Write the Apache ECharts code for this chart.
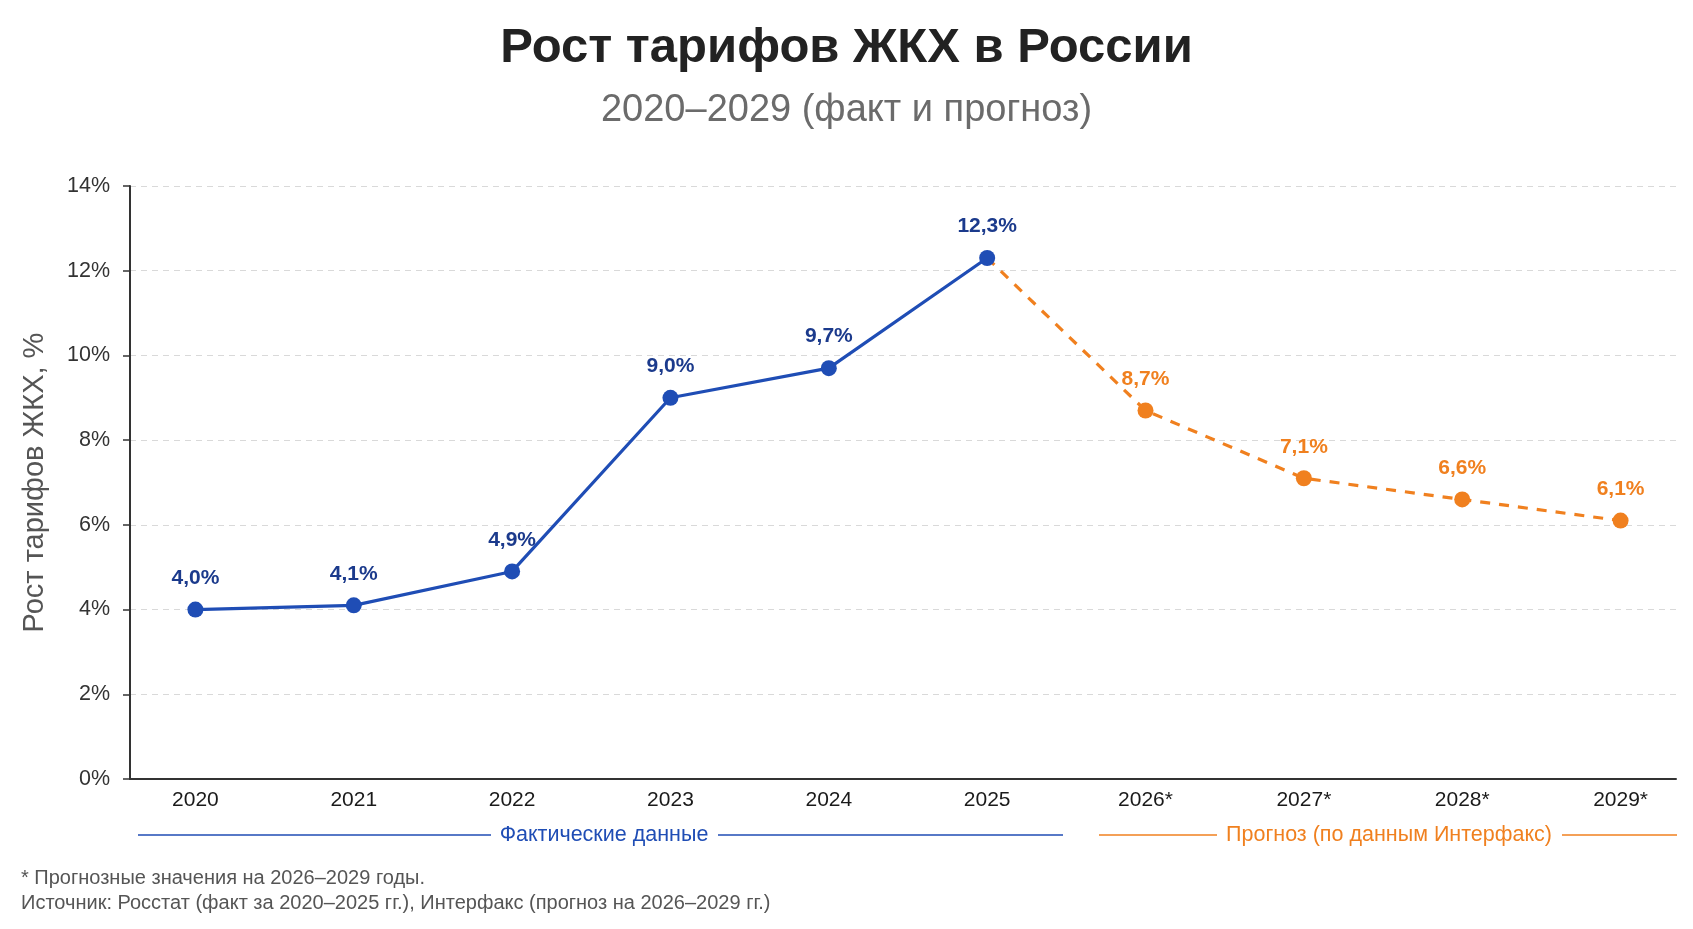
<!DOCTYPE html>
<html lang="ru">
<head>
    <meta charset="UTF-8"/>
    <title>Рост тарифов ЖКХ</title>
    <script src="https://cdn.jsdelivr.net/npm/echarts@6/dist/echarts.min.js"></script>
    <style>
        html, body { margin: 0; padding: 0; background: #fff; }
        #main { width: 1693px; height: 929px; }
    </style>
</head>
<body>
<div id="main"></div>
<script type="text/javascript">
    var years = ['2020', '2021', '2022', '2023', '2024', '2025', '2026*', '2027*', '2028*', '2029*'];
    // факт (Росстат)
    var factValues = [4.0, 4.1, 4.9, 9.0, 9.7, 12.3, null, null, null, null];
    // прогноз (Интерфакс), начинается от последней фактической точки
    var forecastValues = [null, null, null, null, null, 12.3, 8.7, 7.1, 6.6, 6.1];
    var yTicks = [0, 2, 4, 6, 8, 10, 12, 14];

    var FONT = '"Liberation Sans", Arial, sans-serif';
    var BLUE = '#1f4db5';
    var BLUE_LABEL = '#1b3a8c';
    var ORANGE = '#f0801f';

    function pct(v) {
        return v.toFixed(1).replace('.', ',') + '%';
    }

    var factData = factValues.map(function (v, i) { return [i, v]; });
    var forecastData = forecastValues.map(function (v, i) {
        if (i === 5) {
            // точка 2025 уже показана синей серией
            return { value: [i, v], symbol: 'none', label: { show: false } };
        }
        return [i, v];
    });

    var myChart = echarts.init(document.getElementById('main'));

    var option = {
        backgroundColor: '#ffffff',
        textStyle: { fontFamily: FONT },
        title: [{
            text: 'Рост тарифов ЖКХ в России',
            left: 'center',
            top: 19,
            textStyle: { fontSize: 49, fontWeight: 'bold', color: '#222', fontFamily: FONT }
        }, {
            text: '2020–2029 (факт и прогноз)',
            left: 'center',
            top: 87,
            textStyle: { fontSize: 38, fontWeight: 'normal', color: '#6b6b6b', fontFamily: FONT }
        }],
        grid: { left: 130, right: 17, top: 186, bottom: 150 },
        xAxis: {
            type: 'value',
            min: -0.413,
            max: 9.35,
            axisLine: { show: true, onZero: false, lineStyle: { color: '#333', width: 2 } },
            axisTick: { show: false },
            splitLine: { show: false },
            axisLabel: {
                customValues: years.map(function (y, i) { return i; }),
                formatter: function (v) { return years[v]; },
                margin: 11,
                fontSize: 21,
                color: '#1a1a1a',
                fontFamily: FONT
            }
        },
        yAxis: {
            type: 'value',
            min: 0,
            max: 14,
            interval: 2,
            name: 'Рост тарифов ЖКХ, %',
            nameLocation: 'middle',
            nameGap: 81,
            nameTextStyle: { fontSize: 29, color: '#555', fontFamily: FONT },
            axisLine: { show: true, onZero: false, lineStyle: { color: '#333', width: 2 } },
            axisTick: { show: true, length: 7, lineStyle: { color: '#333', width: 1.5 } },
            axisLabel: {
                customValues: yTicks,
                formatter: function (v) { return v + '%'; },
                margin: 20,
                fontSize: 21.5,
                color: '#333',
                fontFamily: FONT
            },
            splitLine: { show: true, lineStyle: { color: '#d9d9d9', type: [6, 5], width: 1.2 } }
        },
        series: [{
            name: 'Прогноз',
            type: 'line',
            data: forecastData,
            connectNulls: false,
            symbol: 'circle',
            symbolSize: 16,
            lineStyle: { color: ORANGE, width: 3.2, type: [10, 9] },
            itemStyle: { color: ORANGE },
            label: {
                show: true,
                position: 'top',
                distance: 13,
                formatter: function (p) { return pct(p.value[1]); },
                fontSize: 21,
                fontWeight: 'bold',
                color: ORANGE,
                fontFamily: FONT
            },
            z: 2
        }, {
            name: 'Факт',
            type: 'line',
            data: factData,
            symbol: 'circle',
            symbolSize: 16,
            lineStyle: { color: BLUE, width: 3.2 },
            itemStyle: { color: BLUE },
            label: {
                show: true,
                position: 'top',
                distance: 13,
                formatter: function (p) { return pct(p.value[1]); },
                fontSize: 21,
                fontWeight: 'bold',
                color: BLUE_LABEL,
                fontFamily: FONT
            },
            z: 3
        }],
        graphic: [
            // подпись периода фактических данных
            { type: 'line', shape: { x1: 138, y1: 835, x2: 491, y2: 835 }, style: { stroke: BLUE, lineWidth: 1.5 } },
            { type: 'line', shape: { x1: 718, y1: 835, x2: 1063, y2: 835 }, style: { stroke: BLUE, lineWidth: 1.5 } },
            { type: 'text', x: 604, y: 835, style: { text: 'Фактические данные', fill: BLUE, fontSize: 21.5, fontFamily: FONT, align: 'center', verticalAlign: 'middle' } },
            // подпись периода прогноза
            { type: 'line', shape: { x1: 1099, y1: 835, x2: 1217, y2: 835 }, style: { stroke: ORANGE, lineWidth: 1.5 } },
            { type: 'line', shape: { x1: 1562, y1: 835, x2: 1677, y2: 835 }, style: { stroke: ORANGE, lineWidth: 1.5 } },
            { type: 'text', x: 1389, y: 835, style: { text: 'Прогноз (по данным Интерфакс)', fill: ORANGE, fontSize: 21.5, fontFamily: FONT, align: 'center', verticalAlign: 'middle' } },
            // сноски
            { type: 'text', x: 21, y: 878, style: { text: '* Прогнозные значения на 2026–2029 годы.', fill: '#555', fontSize: 20, fontFamily: FONT, verticalAlign: 'middle' } },
            { type: 'text', x: 21, y: 903, style: { text: 'Источник: Росстат (факт за 2020–2025 гг.), Интерфакс (прогноз на 2026–2029 гг.)', fill: '#555', fontSize: 20, fontFamily: FONT, verticalAlign: 'middle' } }
        ]
    };

    myChart.setOption(option);
</script>
</body>
</html>
